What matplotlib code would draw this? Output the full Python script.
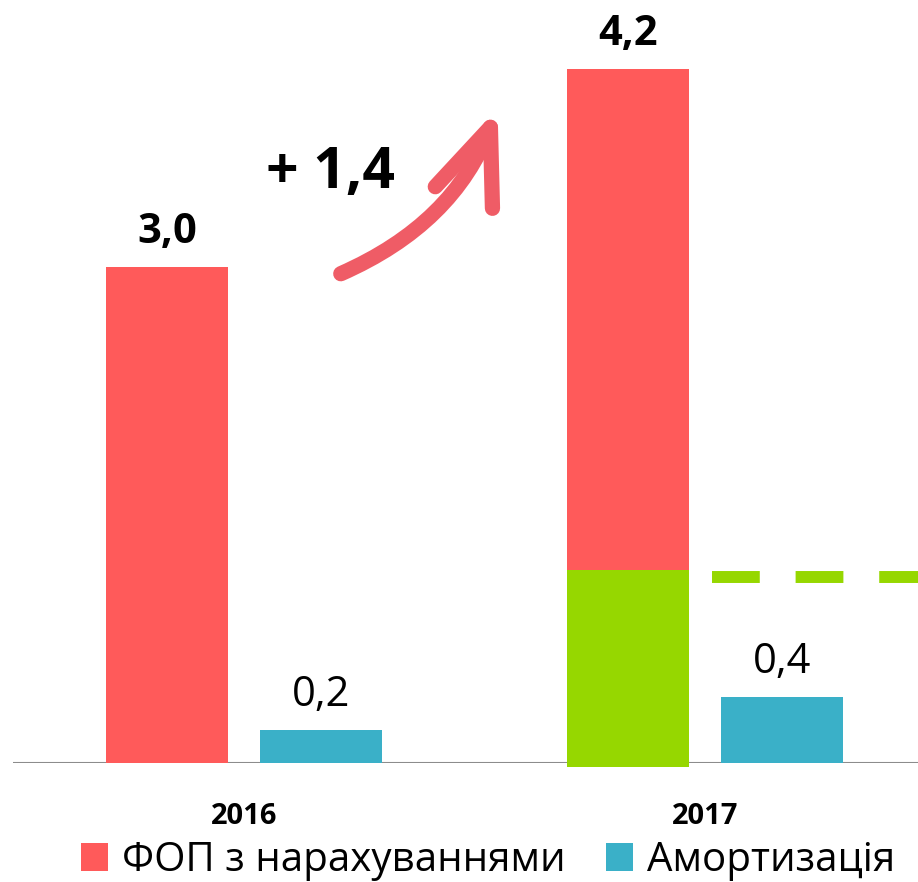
import matplotlib.pyplot as plt
import numpy as np

plt.rcParams['font.family'] = ['Open Sans', 'DejaVu Sans']

years = ['2016', '2017']
fop = [3.0, 4.2]           # ФОП з нарахуваннями
amort = [0.2, 0.4]         # Амортизація
fop_labels = ['3,0', '4,2']
amort_labels = ['0,2', '0,4']
fop_2017_part = 1.17       # green part of the 2017 bar
dash_level = 1.125         # green dashed reference line
growth_label = '+ 1,4'

red = '#FF5A5A'
teal = '#3AB0C8'
green = '#96D700'
arrow_col = '#EF5C66'

fig = plt.figure(figsize=(9.18, 8.82), dpi=100)
ax = fig.add_axes([13/918, 119/882, 905/918, 763/882])

x = np.arange(len(years))
w = 0.265
off = 0.167

b1 = ax.bar(x - off, fop, w, color=red, label='ФОП з нарахуваннями', zorder=2)
b2 = ax.bar(x + off, amort, w, color=teal, label='Амортизація', zorder=2)
# green overlay in the 2017 bar, slightly below the baseline
ax.bar(x[1] - off, fop_2017_part + 0.027, w, bottom=-0.027, color=green,
       zorder=3, clip_on=False)
ax.hlines(dash_level, x[1] - off + w/2 + 0.049, x[1] + 1.0, color=green, lw=8.6,
          linestyles=(0, (4.0, 3.0)), zorder=3)

ax.axhline(0, color='#8C8C8C', lw=1.5, zorder=1)

# value labels
for xi, v, t in zip(x - off, fop, fop_labels):
    ax.annotate(t, (xi, v), xytext=(0, 17), textcoords='offset points',
                ha='center', va='baseline', fontsize=30, fontweight='bold')
for xi, v, t in zip(x + off, amort, amort_labels):
    ax.annotate(t, (xi, v), xytext=(0, 17), textcoords='offset points',
                ha='center', va='baseline', fontsize=30)

# growth arrow
ax.annotate('', xy=(0.55, 3.96), xytext=(0.21, 2.96),
            arrowprops=dict(arrowstyle='->,head_length=54,head_width=22',
                            mutation_scale=1, connectionstyle='arc3,rad=0.21',
                            color=arrow_col, lw=11, capstyle='round',
                            joinstyle='round', shrinkA=0, shrinkB=0))
ax.text(0.187, 3.48, growth_label, ha='center', va='baseline',
        fontsize=41, fontweight='bold')

ax.set_xlim(-0.501, 1.462)
ax.set_ylim(0, 763/165.3)
ax.set_xticks(x)
ax.set_xticklabels(years, fontsize=21, fontweight='bold')
ax.tick_params(axis='x', length=0, pad=28)
ax.set_yticks([])
for s in ax.spines.values():
    s.set_visible(False)

fig.legend(handles=[b1, b2], loc='center', bbox_to_anchor=(0.532, 0.024),
           ncol=2, frameon=False, fontsize=29, handlelength=0.67,
           handleheight=0.67, handletextpad=0.35, columnspacing=1.0,
           borderpad=0, borderaxespad=0)

fig.savefig('out.png', dpi=100)
